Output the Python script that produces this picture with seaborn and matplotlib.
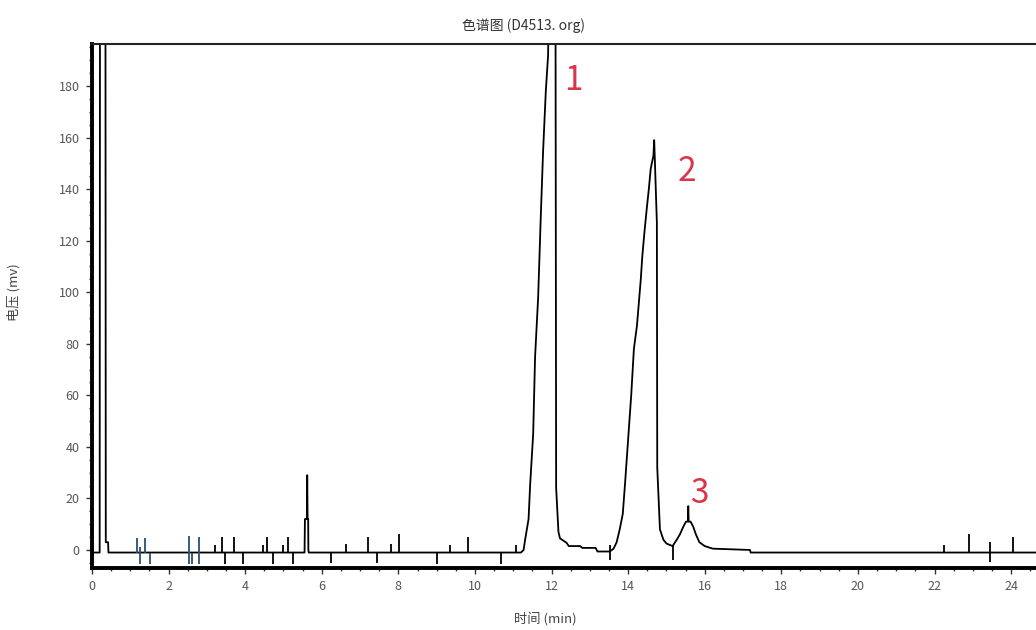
import matplotlib
matplotlib.use("Agg")
import matplotlib.pyplot as plt
import pandas as pd
import seaborn as sns
from matplotlib.ticker import MultipleLocator

# chromatogram trace (time in min, signal in mV)
trace_time = [
    0.00, 0.20, 0.21, 0.35, 0.36, 0.42, 0.43,
    5.55, 5.56, 5.61, 5.62, 5.63, 5.645, 5.65, 5.66,
    11.20, 11.27, 11.31, 11.40, 11.44, 11.52, 11.57, 11.65, 11.72, 11.78, 11.85, 11.91, 11.95,
    12.10, 12.12, 12.18, 12.22, 12.39, 12.45, 12.75, 12.80, 13.15, 13.20,
    13.52, 13.62, 13.70, 13.78, 13.86, 13.92, 14.00, 14.08, 14.15, 14.23, 14.28, 14.33,
    14.37, 14.43, 14.49, 14.54, 14.59, 14.66, 14.68, 14.70, 14.75, 14.76, 14.83, 14.92,
    15.00, 15.16, 15.27, 15.35, 15.44, 15.51, 15.56, 15.57, 15.58, 15.63, 15.70, 15.77,
    15.86, 16.00, 16.21, 16.60, 17.18, 17.20, 24.65,
]
trace_signal = [
    -1, -1, 250, 250, 3, 3, -1,
    -1, 12, 12, 29, 12, 12, 0, -1,
    -1, 0, 4, 12, 25, 45, 75, 98, 130, 155, 178, 192, 250,
    250, 24, 7, 4.5, 2.8, 1.5, 1.5, 0.8, 0.8, -0.6,
    -0.6, 0.5, 3, 8, 14, 26, 43, 60, 78, 87, 96, 105,
    114, 124, 133, 140, 148, 153, 159, 150, 127, 32, 8, 4,
    2.5, 1.5, 4, 6, 9, 11, 11, 17, 11, 11, 9, 6,
    3, 1.5, 0.5, 0.3, 0, -1, -1,
]

# integration event marks along the baseline
marker_time = [1.17, 1.25, 1.38, 1.51, 2.52, 2.60, 2.80, 3.21, 3.39, 3.47, 3.71, 3.93,
               4.46, 4.58, 4.72, 4.98, 5.13, 5.24, 6.23, 6.63, 7.22, 7.43, 7.82, 8.02,
               9.02, 9.35, 9.81, 10.67, 11.07, 13.52, 15.16, 22.25, 22.91, 23.45, 24.04]
marker_low = [0, -4.5, 0, -4.5, -4.5, -4.5, -4.5, 0, 0, -4.5, 0, -4.5,
              0, 0, -4.5, 0, 0, -4.5, -4, 0, 0, -4, 0, 0,
              -4.5, 0, 0, -4.5, 0, -3, -3, 0, 0, -3.5, 0]
marker_high = [5.5, 2, 5.5, 0, 6.5, 0, 6, 3, 6, 0, 6, 0,
               3, 6, 0, 3, 6, 0, 0, 3.5, 6, 0, 3.5, 7,
               0, 3, 6, 0, 3, 3, 3, 3, 7, 4, 6]
baseline = -1

peak_labels = ["1", "2", "3"]
peak_label_time = [12.56, 15.53, 15.87]
peak_label_value = [182, 147, 22]

x_ticks = list(range(0, 25, 2))
y_ticks = list(range(0, 181, 20))

sns.set_style("white")
plt.rcParams['font.family'] = ['Noto Sans CJK SC', 'DejaVu Sans']

df = pd.DataFrame({"time": trace_time, "signal": trace_signal})

fig = plt.figure(figsize=(10.36, 6.3), dpi=100)
ax = fig.add_axes([92 / 1036, 1 - 568 / 630, 1 - 92 / 1036, (568 - 44) / 630])

sns.lineplot(data=df, x="time", y="signal", ax=ax, estimator=None, sort=False,
             color="black", linewidth=1.3)

mark_colors = ["#2b4f6e" if t < 3 else "black" for t in marker_time]
ax.vlines(marker_time, [baseline + v for v in marker_low], [baseline + v for v in marker_high],
          colors=mark_colors, linewidth=1.3)

# hand-written peak numbers
for lab, t, v in zip(peak_labels, peak_label_time, peak_label_value):
    ax.text(t, v, lab, color="#d8364c", fontsize=24, ha="center", va="center",
            fontweight="light")

ax.set_xlim(0, 24.65)
ax.set_ylim(-7.0, 196.3)
ax.set_xticks(x_ticks)
ax.set_yticks(y_ticks)
ax.xaxis.set_minor_locator(MultipleLocator(0.5))
ax.yaxis.set_minor_locator(MultipleLocator(5))
ax.tick_params(which="major", direction="out", length=4, width=1, colors="#333",
               labelsize=9, labelcolor="#555", pad=5, left=True, bottom=True)
ax.tick_params(which="minor", direction="out", length=2.5, width=1, colors="#333",
               left=True, bottom=True)

for side in ["left", "bottom"]:
    ax.spines[side].set_linewidth(2.8)
    ax.spines[side].set_color("black")
ax.spines["top"].set_linewidth(1.5)
ax.spines["top"].set_color("#222")
ax.spines["right"].set_visible(False)

ax.set_xlabel("时间 (min)", fontsize=9.5, color="#444")
ax.set_ylabel("电压 (mv)", fontsize=9.5, color="#444")
ax.xaxis.set_label_coords(0.48, -0.084)
ax.yaxis.set_label_coords(-0.076, 0.527)

fig.text(0.505, 1 - 26 / 630, "色谱图 (D4513. org)", fontsize=10, color="#333",
         ha="center", va="center")

fig.savefig("out.png", dpi=100)
